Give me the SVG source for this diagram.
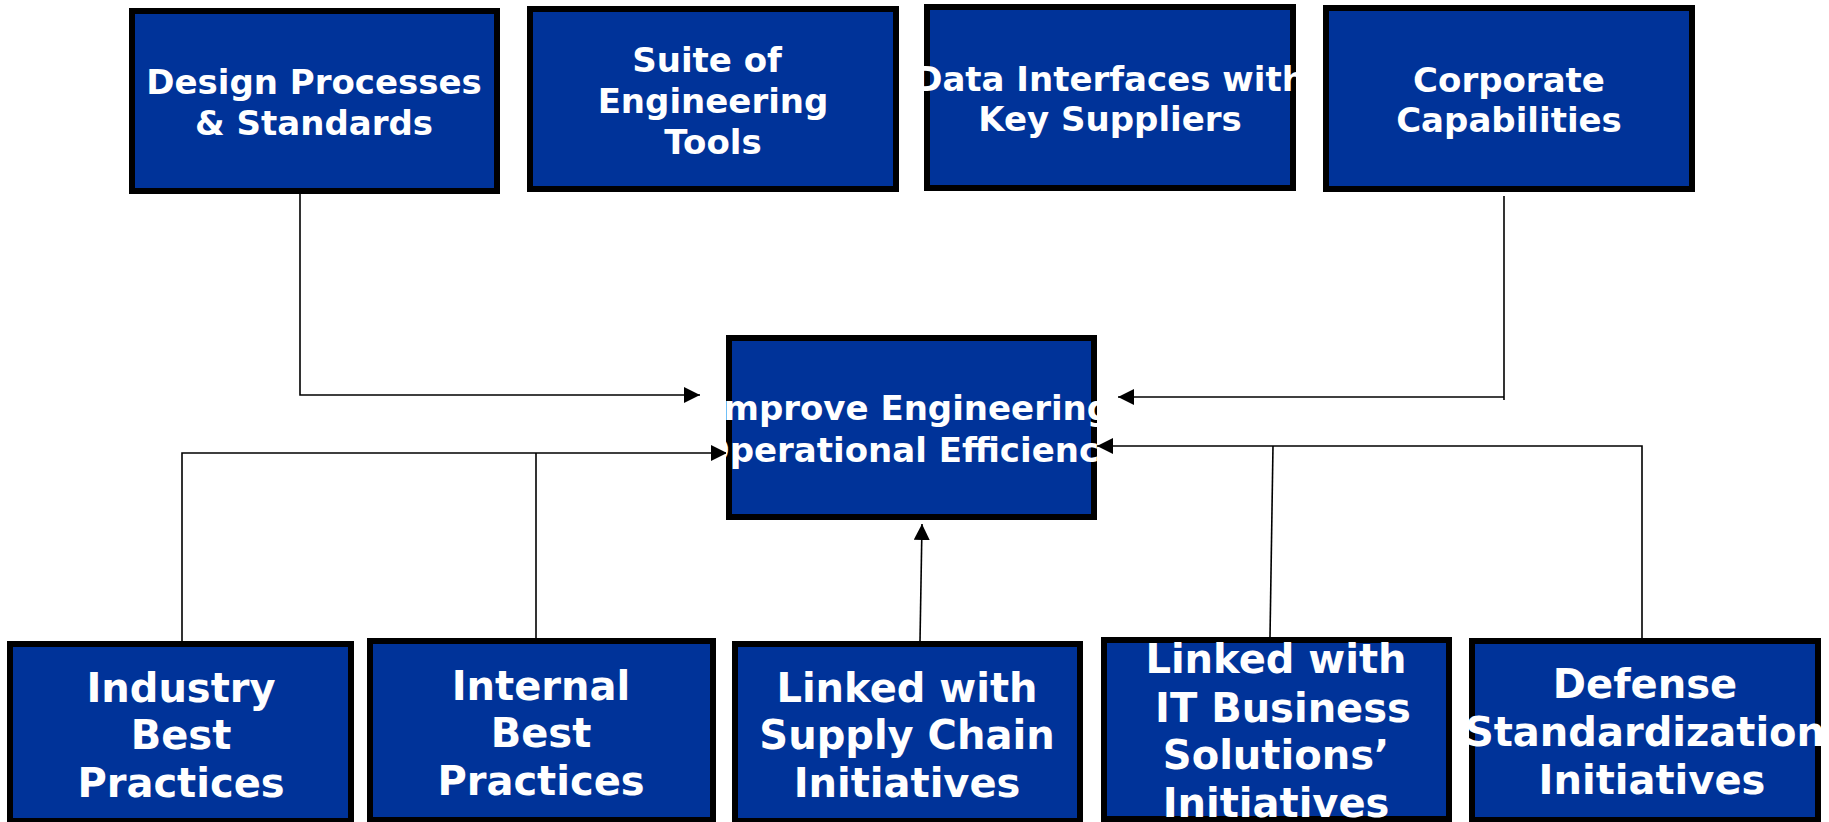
<svg xmlns="http://www.w3.org/2000/svg" width="1829" height="822" viewBox="0 0 1829 822">
<style>
.box{fill:#003399;stroke:#000;stroke-width:6}
.t{font-family:"DejaVu Sans","Liberation Sans",sans-serif;font-weight:bold;fill:#fff;text-anchor:middle}
.s{font-size:34px}
.b{font-size:40px}
.c{fill:none;stroke:#000;stroke-width:1.6}
</style>
<defs>
<marker id="ah" markerUnits="userSpaceOnUse" markerWidth="16" markerHeight="16" viewBox="0 0 16 16" refX="16" refY="8" orient="auto">
<path d="M0 0 L16 8 L0 16 Z" fill="#000"/>
</marker>
<clipPath id="cDesign"><rect x="129" y="8" width="371" height="186"/></clipPath>
<clipPath id="cSuite"><rect x="527" y="6" width="372" height="186"/></clipPath>
<clipPath id="cData"><rect x="924" y="4" width="372" height="187"/></clipPath>
<clipPath id="cCorp"><rect x="1323" y="5" width="372" height="187"/></clipPath>
<clipPath id="cCenter"><rect x="726" y="335" width="371" height="185"/></clipPath>
<clipPath id="cInd"><rect x="7" y="641" width="347" height="182"/></clipPath>
<clipPath id="cInt"><rect x="367" y="638" width="349" height="184"/></clipPath>
<clipPath id="cSup"><rect x="732" y="641" width="351" height="182"/></clipPath>
<clipPath id="cIT"><rect x="1101" y="637" width="351" height="183"/></clipPath>
<clipPath id="cDef"><rect x="1469" y="638" width="352" height="184"/></clipPath>
</defs>

<g id="connectors">
<path class="c" d="M300 194 V395 H700" marker-end="url(#ah)"/>
<path class="c" d="M1504 196 V400"/>
<path class="c" d="M1504 397 H1118" marker-end="url(#ah)"/>
<path class="c" d="M182 641 V453 H727" marker-end="url(#ah)"/>
<path class="c" d="M536 639 V453"/>
<path class="c" d="M920 641 L922 524" marker-end="url(#ah)"/>
<path class="c" d="M1270 637 L1273 446"/>
<path class="c" d="M1642 638 V446 H1097" marker-end="url(#ah)"/>
</g>

<g id="design">
<rect class="box" x="132" y="11" width="365" height="180"/>
<g clip-path="url(#cDesign)"><text class="t s" x="314"><tspan x="314" y="94">Design Processes</tspan><tspan x="314" y="135">&amp; Standards</tspan></text></g>
</g>
<g id="suite">
<rect class="box" x="530" y="9" width="366" height="180"/>
<g clip-path="url(#cSuite)"><text class="t s" x="713" xml:space="preserve"><tspan x="713" y="72">Suite of </tspan><tspan x="713" y="113">Engineering</tspan><tspan x="713" y="154">Tools</tspan></text></g>
</g>
<g id="data">
<rect class="box" x="927" y="7" width="366" height="181"/>
<g clip-path="url(#cData)"><text class="t s" x="1110"><tspan x="1110" y="91">Data Interfaces with</tspan><tspan x="1110" y="131">Key Suppliers</tspan></text></g>
</g>
<g id="corporate">
<rect class="box" x="1326" y="8" width="366" height="181"/>
<g clip-path="url(#cCorp)"><text class="t s" x="1509"><tspan x="1509" y="92">Corporate</tspan><tspan x="1509" y="132">Capabilities</tspan></text></g>
</g>
<g id="center">
<rect class="box" x="729" y="338" width="365" height="179"/>
<g clip-path="url(#cCenter)"><text class="t s" x="911"><tspan x="911" y="420">Improve Engineering</tspan><tspan x="911" y="462">Operational Efficiency</tspan></text></g>
</g>
<g id="industry">
<rect class="box" x="10" y="644" width="341" height="177"/>
<g clip-path="url(#cInd)"><text class="t b" x="181"><tspan x="181" y="702">Industry</tspan><tspan x="181" y="749">Best</tspan><tspan x="181" y="797">Practices</tspan></text></g>
</g>
<g id="internal">
<rect class="box" x="370" y="641" width="343" height="179"/>
<g clip-path="url(#cInt)"><text class="t b" x="541"><tspan x="541" y="700">Internal</tspan><tspan x="541" y="747">Best</tspan><tspan x="541" y="795">Practices</tspan></text></g>
</g>
<g id="supply">
<rect class="box" x="735" y="644" width="345" height="177"/>
<g clip-path="url(#cSup)"><text class="t b" x="907"><tspan x="907" y="702">Linked with</tspan><tspan x="907" y="749">Supply Chain</tspan><tspan x="907" y="797">Initiatives</tspan></text></g>
</g>
<g id="it">
<rect class="box" x="1104" y="640" width="345" height="179"/>
<g clip-path="url(#cIT)"><text class="t b" x="1276" xml:space="preserve"><tspan x="1276" y="673">Linked with</tspan><tspan x="1276" y="722"> IT Business</tspan><tspan x="1276" y="769">Solutions’</tspan><tspan x="1276" y="817">Initiatives</tspan></text></g>
</g>
<g id="defense">
<rect class="box" x="1472" y="641" width="346" height="179"/>
<g clip-path="url(#cDef)"><text class="t b" x="1645" xml:space="preserve"><tspan x="1645" y="698">Defense</tspan><tspan x="1645" y="746">Standardization</tspan><tspan x="1645" y="794"> Initiatives</tspan></text></g>
</g>
</svg>
